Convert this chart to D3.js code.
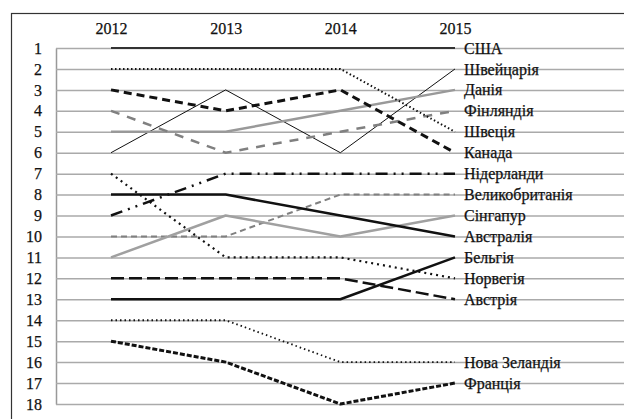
<!DOCTYPE html>
<html><head><meta charset="utf-8">
<script src="https://cdn.jsdelivr.net/npm/d3@7/dist/d3.min.js"></script>
<style>body{margin:0;background:#fff}svg{display:block}</style>
</head><body>
<svg id="c" width="624" height="419"></svg>
<script>
const years = ["2012","2013","2014","2015"];
const ranks = d3.range(1,19);
const countries = ["США","Швейцарія","Данія","Фінляндія","Швеція","Канада","Нідерланди","Великобританія","Сінгапур","Австралія","Бельгія","Норвегія","Австрія","Нова Зеландія","Франція"];
const usa = [1,1,1,1];
const switzerland = [6,3,6,2];
const denmark = [5,5,4,3];
const finland = [4,6,5,4];
const sweden = [2,2,2,5];
const canada = [3,4,3,6];
const netherlands = [9,7,7,7];
const uk = [10,10,8,8];
const singapore = [11,9,10,9];
const australia = [8,8,9,10];
const belgium = [13,13,13,11];
const norway = [7,11,11,12];
const austria = [12,12,12,13];
const newzealand = [14,14,16,16];
const france = [15,16,18,17];
const seriesValues = [usa,switzerland,denmark,finland,sweden,canada,netherlands,uk,singapore,australia,belgium,norway,austria,newzealand,france];

const styles = [
  {c:"#333",w:2,d:null},
  {c:"#111",w:1,d:null},
  {c:"#999",w:2.5,d:null},
  {c:"#808080",w:2.5,d:"9,8"},
  {c:"#111",w:2,d:"1.5,2.5"},
  {c:"#111",w:3,d:"8,5"},
  {c:"#111",w:2.5,d:"12,6,2,6,2,6"},
  {c:"#808080",w:2,d:"6,4"},
  {c:"#a0a0a0",w:2.5,d:null},
  {c:"#111",w:2.5,d:null},
  {c:"#111",w:2.5,d:null},
  {c:"#111",w:2.2,d:"2,4"},
  {c:"#111",w:2.5,d:"13,5"},
  {c:"#111",w:1.8,d:"1.5,3"},
  {c:"#111",w:3,d:"5,2"}
];

const font = "Liberation Serif, Times New Roman, serif";
const svg = d3.select("#c");
svg.append("rect").attr("x",11.5).attr("y",13.5).attr("width",700).attr("height",500)
  .attr("fill","none").attr("stroke","#333").attr("stroke-width",1.2);

const x = d3.scalePoint().domain(years).range([111,455]);
const y = d3.scaleLinear().domain([1,18]).range([48,404]);

function styleText(sel){
  sel.attr("font-family",font).attr("font-size",16).attr("fill","#111")
     .attr("stroke","#111").attr("stroke-width",0.25);
}

const ay = svg.append("g").attr("transform","translate(56,0)")
  .call(d3.axisLeft(y).tickValues(ranks).tickFormat(d3.format("d")).tickSize(-568).tickSizeOuter(0).tickPadding(14));
ay.attr("font-family",font).attr("font-size",16);
ay.select(".domain").attr("stroke","#999").attr("stroke-width",1.5);
ay.selectAll(".tick line").attr("stroke","#aaa").attr("stroke-width",1.5);
ay.selectAll(".tick text").call(styleText);

const ax = svg.append("g").attr("transform","translate(0,38)")
  .call(d3.axisTop(x).tickSize(0).tickPadding(4));
ax.attr("font-family",font).attr("font-size",16);
ax.select(".domain").remove();
ax.selectAll(".tick text").call(styleText);

const line = d3.line().x((d,i)=>x(years[i])).y(d=>y(d));
seriesValues.forEach((vals,i)=>{
  const s = styles[i];
  svg.append("path").attr("d",line(vals)).attr("fill","none")
    .attr("stroke",s.c).attr("stroke-width",s.w)
    .attr("stroke-dasharray",s.d).attr("stroke-linejoin","round");
});

svg.append("g").selectAll("text").data(countries).join("text")
  .attr("x",x("2015")+9)
  .attr("y",(d,i)=>y(seriesValues[i][3]))
  .attr("dy","0.35em")
  .call(styleText)
  .text(d=>d);
</script>
</body></html>
